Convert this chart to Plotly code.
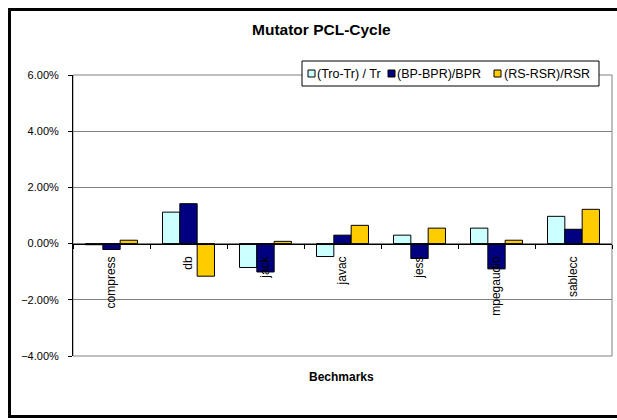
import plotly.graph_objects as go

# ---- data ----
benchmarks = ["compress", "db", "jack", "javac", "jess", "mpegaudio", "sablecc"]
series_names = ["(Tro-Tr) / Tr", "(BP-BPR)/BPR", "(RS-RSR)/RSR"]
tro_tr = [-0.0004, 0.0112, -0.0085, -0.0046, 0.0030, 0.0055, 0.0097]
bp_bpr = [-0.0021, 0.0142, -0.0101, 0.0030, -0.0053, -0.0090, 0.0051]
rs_rsr = [0.0012, -0.0116, 0.0008, 0.0065, 0.0055, 0.0012, 0.0122]
y_ticks = [-0.04, -0.02, 0.0, 0.02, 0.04, 0.06]

colors = ["#CCFFFF", "#000080", "#FFCC00"]
values = [tro_tr, bp_bpr, rs_rsr]

# ---- layout geometry (pixels) ----
W, H = 617, 420
L, R, T, B = 73, 5, 75, 64
PW, PH = W - L - R, H - T - B
FONT = "Liberation Sans, Arial, Helvetica, sans-serif"


def fx(px):
    return (px - L) / PW


def fy(py):
    return (H - B - py) / PH


fig = go.Figure()
for name, vals, col in zip(series_names, values, colors):
    fig.add_trace(go.Bar(
        x=benchmarks, y=vals, name=name, showlegend=False,
        marker=dict(color=col, line=dict(color="black", width=1)),
    ))

ymin, ymax = y_ticks[0], y_ticks[-1]
zero_pos = (0 - ymin) / (ymax - ymin)

border = dict(color="black", width=3)
shapes = [
    # plot-area frame (grey)
    dict(type="rect", xref="paper", yref="paper", x0=0, x1=1, y0=0, y1=1,
         line=dict(color="#808080", width=1), layer="below"),
    # outer chart border: left, top, bottom edges (right edge is off-picture)
    dict(type="line", xref="paper", yref="paper", x0=fx(9.5), x1=fx(9.5),
         y0=fy(416.5), y1=fy(9.5), line=border),
    dict(type="line", xref="paper", yref="paper", x0=fx(8), x1=fx(W),
         y0=fy(9.5), y1=fy(9.5), line=border),
    dict(type="line", xref="paper", yref="paper", x0=fx(8), x1=fx(W),
         y0=fy(416.5), y1=fy(416.5), line=border),
]

annotations = [
    dict(text="<b>Mutator PCL-Cycle</b>", xref="paper", yref="paper",
         x=fx(321), y=fy(29), xanchor="center", yanchor="middle",
         showarrow=False, font=dict(family=FONT, size=15.5, color="black")),
    dict(text="<b>Bechmarks</b>", xref="paper", yref="paper",
         x=fx(341.5), y=fy(377), xanchor="center", yanchor="middle",
         showarrow=False, font=dict(family=FONT, size=12, color="black")),
]

# ---- custom legend (box, swatches, labels) ----
leg_box = (302, 599, 61, 86)
shapes.append(dict(type="rect", xref="paper", yref="paper",
                   x0=fx(leg_box[0]), x1=fx(leg_box[1]),
                   y0=fy(leg_box[3]), y1=fy(leg_box[2]),
                   line=dict(color="black", width=1), fillcolor="white"))
swatch_left = [308, 388, 494]
text_left = [316, 396, 503]
cy = (leg_box[2] + leg_box[3]) / 2
for name, col, sx, tx in zip(series_names, colors, swatch_left, text_left):
    shapes.append(dict(type="rect", xref="paper", yref="paper",
                       x0=fx(sx), x1=fx(sx + 7), y0=fy(cy + 3.5), y1=fy(cy - 3.5),
                       line=dict(color="black", width=1), fillcolor=col))
    annotations.append(dict(text=name, xref="paper", yref="paper",
                            x=fx(tx), y=fy(cy), xanchor="left", yanchor="middle",
                            showarrow=False, borderpad=0,
                            font=dict(family=FONT, size=12.5, color="black")))

fig.update_layout(
    width=W, height=H,
    margin=dict(l=L, r=R, t=T, b=B, pad=0),
    paper_bgcolor="white", plot_bgcolor="white",
    barmode="group", bargap=0.325, bargroupgap=0,
    font=dict(family=FONT, color="black"),
    shapes=shapes, annotations=annotations,
    xaxis=dict(
        type="category", anchor="free", position=zero_pos,
        showline=True, linecolor="black", linewidth=1,
        ticks="outside", tickson="boundaries", ticklen=4, tickcolor="black",
        tickangle=-90, ticklabelstandoff=7,
        tickfont=dict(family=FONT, size=12, color="black"),
        showgrid=False, zeroline=False, automargin=False,
    ),
    yaxis=dict(
        range=[ymin, ymax], tickvals=y_ticks, tickformat=".2%",
        showline=True, linecolor="black", linewidth=1,
        ticks="outside", ticklen=4, tickcolor="black", ticklabelstandoff=7,
        tickfont=dict(family=FONT, size=11, color="black"),
        showgrid=True, gridcolor="#808080", gridwidth=1, zeroline=False,
        automargin=False,
    ),
)

fig.write_html(
    "out.html",
    config={"displayModeBar": False},
    post_script="document.body.style.margin='0';document.body.style.overflow='hidden';",
)
